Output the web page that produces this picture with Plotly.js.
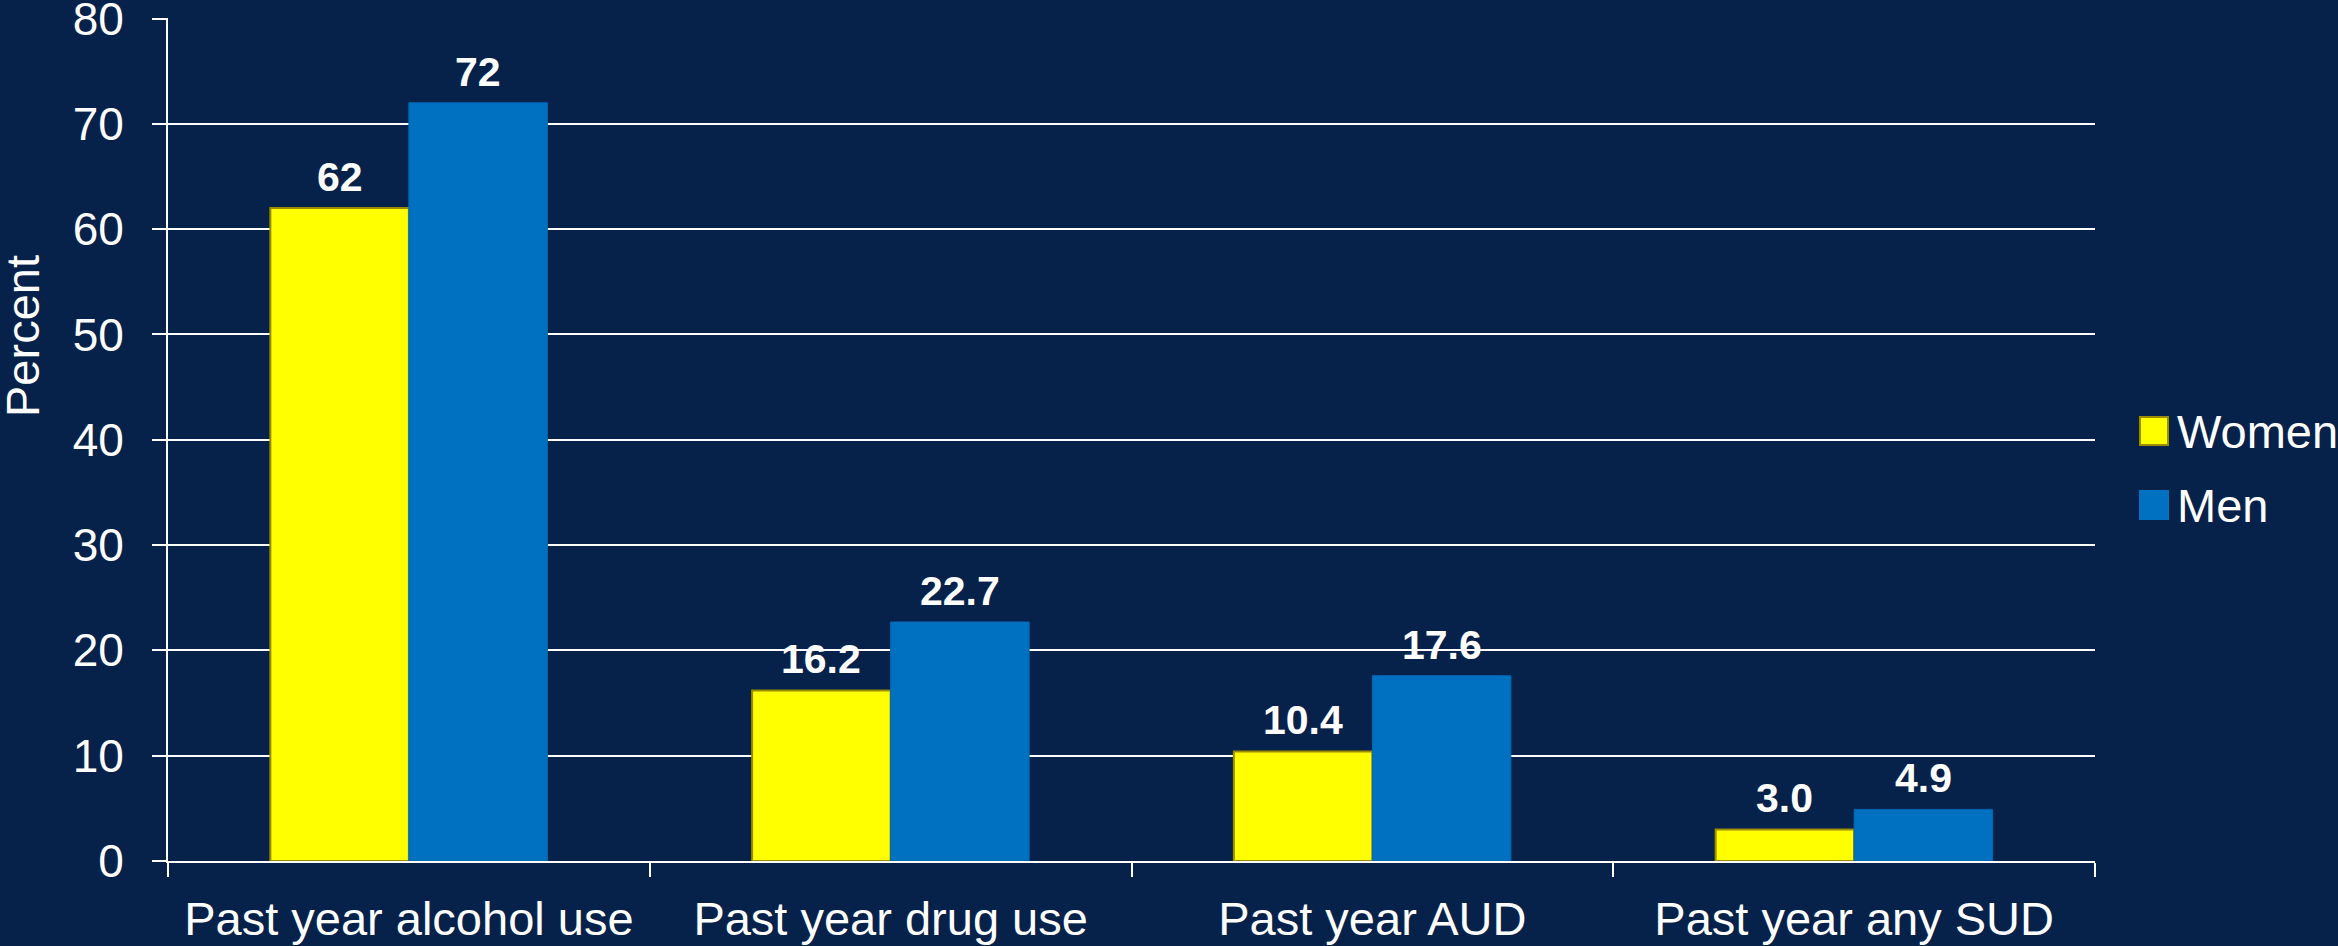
<!DOCTYPE html>
<html>
<head>
<meta charset="utf-8">
<script src="https://cdn.plot.ly/plotly-3.0.1.min.js"></script>
<style>
  html, body { margin: 0; padding: 0; background: #06214A; }
  #chart { width: 2338px; height: 946px; }
</style>
</head>
<body>
<div id="chart"></div>
<script>
// ---- Data ----
const categories = ['Past year alcohol use', 'Past year drug use', 'Past year AUD', 'Past year any SUD'];
const women = [62, 16.2, 10.4, 3.0];
const men = [72, 22.7, 17.6, 4.9];
const womenLabels = ['62', '16.2', '10.4', '3.0'];
const menLabels = ['72', '22.7', '17.6', '4.9'];
const seriesNames = ['Women', 'Men'];
const yTickVals = [0, 10, 20, 30, 40, 50, 60, 70, 80];
const yTitle = 'Percent';

// ---- Styling ----
const BG = '#06214A';
const FONT = '"Liberation Sans", Arial, Helvetica, sans-serif';
const YELLOW = '#FFFF00';
const YELLOW_EDGE = '#9C8C00';
const BLUE = '#0070C0';
const W = 2338, H = 946;
const M = { l: 168, r: 243, t: 18, b: 85 };
const BARGAP = 0.425;
const TXT = 47;

const traces = [
  {
    type: 'bar', name: seriesNames[0], x: categories, y: women,
    marker: { color: YELLOW, line: { color: YELLOW_EDGE, width: 2 } },
    showlegend: false, hoverinfo: 'x+y'
  },
  {
    type: 'bar', name: seriesNames[1], x: categories, y: men,
    marker: { color: BLUE, line: { color: '#0068B4', width: 1 } },
    showlegend: false, hoverinfo: 'x+y'
  }
];

// Value labels placed above each bar (category index +/- half bar width)
const halfBar = (1 - BARGAP) / 4;
const annotations = [];
[[women, womenLabels, -halfBar], [men, menLabels, halfBar]].forEach(([vals, labs, off]) => {
  vals.forEach((v, i) => {
    annotations.push({
      xref: 'x', yref: 'y', x: i + off, y: v,
      text: labs[i], showarrow: false, xanchor: 'center', yanchor: 'bottom',
      yshift: 6,
      font: { family: FONT, size: 41, color: '#FFFFFF', weight: 'bold' }
    });
  });
});

// Pixel -> paper helpers for items outside the plot area
const plotW = W - M.l - M.r, plotH = H - M.t - M.b;
const px = x => (x - M.l) / plotW;
const py = y => 1 - (y - M.t) / plotH;

// Y-axis title (placed like the original: left edge, above centre)
annotations.push({
  xref: 'paper', yref: 'paper', x: px(22), y: py(336),
  text: yTitle, showarrow: false, textangle: -90,
  xanchor: 'center', yanchor: 'middle',
  font: { family: FONT, size: TXT, color: '#FFFFFF' }
});

// Manual legend (large square swatches like the original)
const legendColors = [[YELLOW, YELLOW_EDGE], [BLUE, BLUE]];
const shapes = [];
seriesNames.forEach((nm, k) => {
  const cy = 431 + k * 74;
  shapes.push({
    type: 'rect', xref: 'paper', yref: 'paper',
    x0: px(2140), x1: px(2168), y0: py(cy - 14), y1: py(cy + 14),
    fillcolor: legendColors[k][0], line: { color: legendColors[k][1], width: 2 }
  });
  annotations.push({
    xref: 'paper', yref: 'paper', x: px(2175), y: py(cy),
    text: nm, showarrow: false, xanchor: 'left', yanchor: 'middle',
    font: { family: FONT, size: TXT, color: '#FFFFFF' }
  });
});

const layout = {
  width: W, height: H,
  margin: M,
  paper_bgcolor: BG, plot_bgcolor: BG,
  font: { family: FONT, color: '#FFFFFF', size: TXT },
  barmode: 'group', bargap: BARGAP, bargroupgap: 0,
  showlegend: false,
  xaxis: {
    type: 'category',
    showline: true, linecolor: '#FFFFFF', linewidth: 2,
    ticks: 'outside', tickson: 'boundaries', ticklen: 14, tickwidth: 2, tickcolor: '#FFFFFF',
    tickfont: { family: FONT, size: TXT, color: '#FFFFFF' },
    ticklabelstandoff: 16, ticklabeloverflow: 'allow',
    showgrid: false, zeroline: false, fixedrange: true
  },
  yaxis: {
    range: [0, 80.05], tickvals: yTickVals, ticktext: yTickVals.map(String),
    showline: true, linecolor: '#FFFFFF', linewidth: 2,
    ticks: 'outside', ticklen: 14, tickwidth: 2, tickcolor: '#FFFFFF',
    tickfont: { family: FONT, size: 46, color: '#FFFFFF' },
    ticklabelstandoff: 19, ticklabeloverflow: 'allow',
    showgrid: true, gridcolor: '#FFFFFF', gridwidth: 2,
    zeroline: false, fixedrange: true
  },
  shapes: shapes,
  annotations: annotations
};

Plotly.newPlot('chart', traces, layout, { staticPlot: true, displayModeBar: false });
</script>
</body>
</html>
